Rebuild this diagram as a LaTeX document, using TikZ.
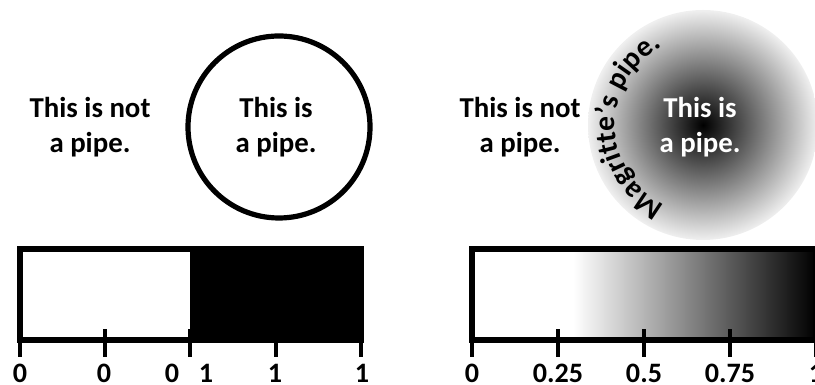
\documentclass[tikz,border=0pt]{standalone}
\usepackage{fontspec}
\setmainfont{Carlito}
\usetikzlibrary{decorations.text}

\begin{document}
\begin{tikzpicture}[x=0.025cm,y=0.025cm,
    lbl/.style={font=\fontsize{20.5}{24.5}\selectfont\bfseries,align=center},
    num/.style={font=\fontsize{20}{24}\selectfont\bfseries,inner sep=0pt},
    edge/.style={line width=3.7pt},
    tickmark/.style={line width=2.8pt}]
  \useasboundingbox (0,0) rectangle (815,385);
  % plain circle
  \node[lbl] (notpipe) at (90,258) {This is not\\a pipe.};
  \draw[edge] (279,258) circle (91);
  \node[lbl] (pipe) at (276,258) {This is\\a pipe.};
  % shaded circle
  \node[lbl] (notpipeb) at (520,258) {This is not\\a pipe.};
  \shade[inner color=black,outer color=black!6] (703,260) circle (115);
  \node[lbl,white] (pipeb) at (700,258) {This is\\a pipe.};
  \path[decorate,decoration={text along path,text align=center,
      text={|\fontsize{21}{24}\selectfont\bfseries|Magritte's pipe.}}]
    (703,260) ++(248:88) arc[start angle=248,end angle=114,radius=88];
  % step bar
  \fill (190,45) rectangle (361,136);
  \draw[edge] (20,45) rectangle (361,136);
  \foreach \x in {20,105,190,276,361}
    \draw[tickmark] (\x,28) -- (\x,56);
  \foreach \x/\t [count=\i] in {20/0,104/0,172/0,206/1,275/1,362/1}
    \node[num] (la\i) at (\x,12) {\t};
  % ramp bar
  \shade[left color=white,right color=black] (573,45) rectangle (816,136);
  \draw[edge] (472,45) rectangle (816,136);
  \foreach \x in {472,558,644,730,816}
    \draw[tickmark] (\x,28) -- (\x,56);
  \foreach \x/\t [count=\i] in {472/0,558/0.25,644/0.5,730/0.75,816/1}
    \node[num] (lb\i) at (\x,12) {\t};
\end{tikzpicture}
\end{document}
